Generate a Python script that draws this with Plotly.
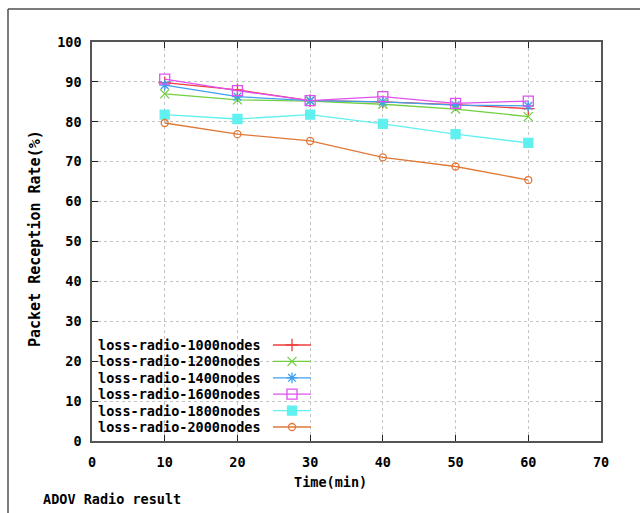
import plotly.graph_objects as go

# ---- data ----
time_min = [10, 20, 30, 40, 50, 60]
series_names = ["loss-radio-1000nodes", "loss-radio-1200nodes", "loss-radio-1400nodes",
                "loss-radio-1600nodes", "loss-radio-1800nodes", "loss-radio-2000nodes"]
n1000 = [89.8, 88.0, 85.3, 85.0, 84.3, 83.3]
n1200 = [87.0, 85.5, 85.2, 84.4, 83.2, 81.3]
n1400 = [89.2, 86.3, 85.3, 85.0, 84.2, 84.0]
n1600 = [90.7, 87.8, 85.3, 86.3, 84.6, 85.2]
n1800 = [81.8, 80.7, 81.8, 79.5, 76.9, 74.7]
n2000 = [79.7, 76.9, 75.2, 71.1, 68.8, 65.4]
series_values = [n1000, n1200, n1400, n1600, n1800, n2000]
x_ticks = [0, 10, 20, 30, 40, 50, 60, 70]
y_ticks = [0, 10, 20, 30, 40, 50, 60, 70, 80, 90, 100]

# ---- styles ----
colors = ["#f03c3c", "#70d040", "#40a0f0", "#e050f0", "#60f0f0", "#e07838"]
symbols = ["cross-thin-open", "x-thin-open", "asterisk-open", "square-open", "square", "circle-open"]
sizes = [9, 9, 9, 10, 9, 7]

W, H = 640, 513
L, R, T, B = 92, 601, 42, 441  # plot box in pixels
XR = [0, 70]
YR = [0, 100]

def px_to_paper_x(px):
    return (px - L) / (R - L)

def py_to_paper_y(py):
    return (B - py) / (B - T)

def px_to_data_x(px):
    return XR[0] + (px - L) / (R - L) * (XR[1] - XR[0])

def py_to_data_y(py):
    return YR[0] + (B - py) / (B - T) * (YR[1] - YR[0])

FONT = "DejaVu Sans Mono"
fig = go.Figure()

for name, vals, c, s, sz in zip(series_names, series_values, colors, symbols, sizes):
    fig.add_trace(go.Scatter(
        x=time_min, y=vals, name=name, mode="lines+markers",
        line=dict(color=c, width=1.3),
        marker=dict(symbol=s, size=sz, color=c, line=dict(color=c, width=1.3)),
        showlegend=False,
    ))

shapes = []
annotations = []

# opaque legend box (hides grid, below traces)
shapes.append(dict(type="rect", xref="paper", yref="paper",
                   x0=px_to_paper_x(93), x1=px_to_paper_x(318),
                   y0=py_to_paper_y(437), y1=py_to_paper_y(336),
                   fillcolor="white", line=dict(width=0), layer="between"))

# custom legend: text on the left, sample on the right
row0, row_step = 345, 16.4
text_right, line_x0, line_x1 = 263, 273, 311
for i, (name, c, s, sz) in enumerate(zip(series_names, colors, symbols, sizes)):
    yy = row0 + i * row_step
    annotations.append(dict(text=name, xref="paper", yref="paper",
                            x=px_to_paper_x(text_right), y=py_to_paper_y(yy),
                            xanchor="right", yanchor="middle", showarrow=False,
                            font=dict(family=FONT, size=13.5, color="black", weight="bold")))
    shapes.append(dict(type="line", xref="paper", yref="paper",
                       x0=px_to_paper_x(line_x0), x1=px_to_paper_x(line_x1),
                       y0=py_to_paper_y(yy), y1=py_to_paper_y(yy),
                       line=dict(color=c, width=1.3)))
    fig.add_trace(go.Scatter(
        x=[px_to_data_x((line_x0 + line_x1) / 2)], y=[py_to_data_y(yy)],
        mode="markers", showlegend=False, hoverinfo="skip",
        marker=dict(symbol=s, size=sz, color=c, line=dict(color=c, width=1.3)),
    ))

# outer frame (top and left)
frame_c = "#505050"
shapes.append(dict(type="line", xref="paper", yref="paper",
                   x0=px_to_paper_x(8), x1=px_to_paper_x(W + 5),
                   y0=py_to_paper_y(9), y1=py_to_paper_y(9),
                   line=dict(color=frame_c, width=1.5)))
shapes.append(dict(type="line", xref="paper", yref="paper",
                   x0=px_to_paper_x(8), x1=px_to_paper_x(8),
                   y0=py_to_paper_y(9), y1=py_to_paper_y(H + 5),
                   line=dict(color=frame_c, width=1.5)))

# axis titles and caption
annotations.append(dict(text="Time(min)", xref="paper", yref="paper",
                        x=px_to_paper_x(330), y=py_to_paper_y(482),
                        xanchor="center", yanchor="middle", showarrow=False,
                        font=dict(family=FONT, size=13.5, color="black", weight="bold")))
annotations.append(dict(text="Packet Reception Rate(%)", xref="paper", yref="paper",
                        x=px_to_paper_x(35), y=py_to_paper_y(239), textangle=-90,
                        xanchor="center", yanchor="middle", showarrow=False,
                        font=dict(family=FONT, size=15, color="black", weight="bold")))
annotations.append(dict(text="ADOV Radio result", xref="paper", yref="paper",
                        x=px_to_paper_x(41), y=py_to_paper_y(499),
                        xanchor="left", yanchor="middle", showarrow=False,
                        font=dict(family=FONT, size=13.5, color="black", weight="bold")))

axis_common = dict(
    showgrid=True, gridcolor="#c4c4c4", griddash="dot", gridwidth=1,
    zeroline=False, showline=True, linecolor="#555555", linewidth=1.5, mirror="ticks",
    ticks="inside", ticklen=6, tickcolor="#222222", tickwidth=1.2,
    tickfont=dict(family=FONT, size=13.5, color="black", weight="bold"),
)

fig.update_layout(
    width=W, height=H,
    margin=dict(l=L, r=W - R, t=T, b=H - B),
    paper_bgcolor="white", plot_bgcolor="white",
    showlegend=False,
    xaxis=dict(range=XR, tickvals=x_ticks, ticklabelstandoff=8, **axis_common),
    yaxis=dict(range=YR, tickvals=y_ticks, ticklabelstandoff=6, **axis_common),
    shapes=shapes, annotations=annotations,
)

fig.write_html("out.html", config={"displayModeBar": False},
               post_script="document.body.style.margin='0';document.body.style.overflow='hidden';")
